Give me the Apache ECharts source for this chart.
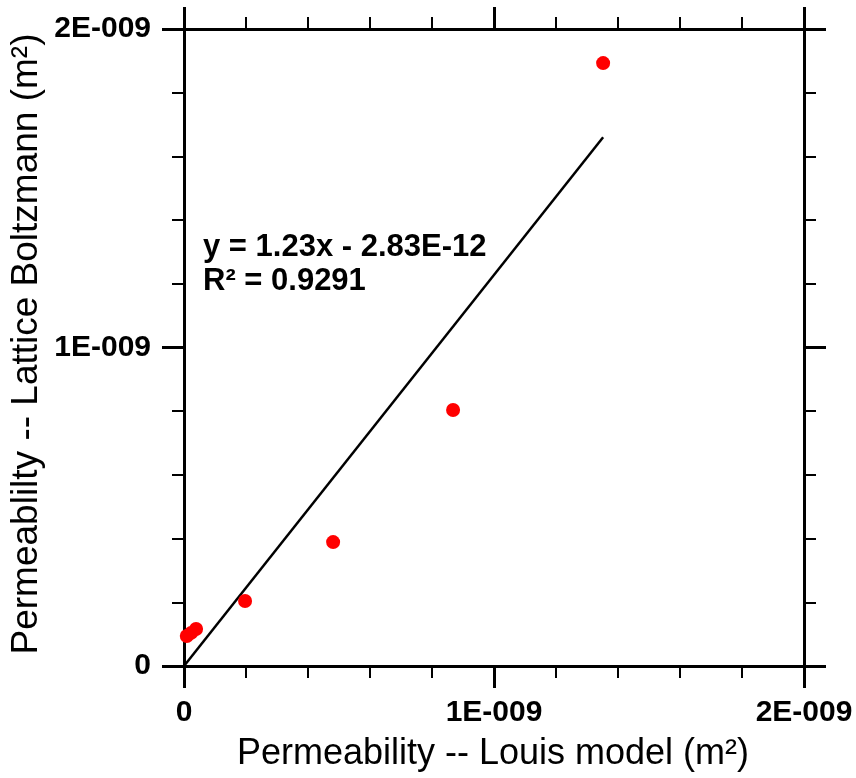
<!DOCTYPE html>
<html>
<head>
<meta charset="utf-8">
<script src="https://cdn.jsdelivr.net/npm/echarts@6/dist/echarts.min.js"></script>
<style>
html,body{margin:0;padding:0;background:#fff;}
#chart{width:856px;height:778px;}
</style>
</head>
<body>
<div id="chart"></div>
<script>
// Values in units of 1E-009 m^2
const louisModel = [1.352, 0.868, 0.481, 0.197, 0.009, 0.023, 0.039];
const latticeBoltzmann = [1.893, 0.804, 0.389, 0.204, 0.094, 0.104, 0.116];
const trendX = [0, 1.352];
const trendY = [0, 1.66];
const tickLabels = ['0', '1E-009', '2E-009'];
const xTitle = 'Permeability -- Louis model (m\u00B2)';
const yTitle = 'Permeablilty -- Lattice Boltzmann (m\u00B2)';
const eqLine1 = 'y = 1.23x - 2.83E-12';
const eqLine2 = 'R\u00B2 = 0.9291';

const FONT = '"Liberation Sans", Arial, Helvetica, sans-serif';
const chart = echarts.init(document.getElementById('chart'), null, {renderer: 'canvas'});

function fmt(v) {
  const i = Math.round(v);
  return tickLabels[i] !== undefined ? tickLabels[i] : '';
}

function axisCommon(showLabel, pos) {
  return {
    type: 'value', min: 0, max: 2, interval: 1, position: pos,
    axisLine: {show: true, onZero: false, lineStyle: {color: '#000', width: 3}},
    axisTick: {show: true, length: 22, lineStyle: {color: '#000', width: 3}},
    minorTick: {show: true, splitNumber: 5, length: 12, lineStyle: {color: '#000', width: 2}},
    splitLine: {show: false},
    minorSplitLine: {show: false},
    axisLabel: {
      show: showLabel, formatter: fmt, color: '#000',
      fontFamily: FONT, fontWeight: 'bold', fontSize: 30,
      margin: 32
    }
  };
}

const xBottom = axisCommon(true, 'bottom');
const xTop = axisCommon(false, 'top');
const yLeft = axisCommon(true, 'left');
yLeft.axisLabel.margin = 33;
const yRight = axisCommon(false, 'right');

const scatterData = louisModel.map((x, i) => [x, latticeBoltzmann[i]]);
const trendData = trendX.map((x, i) => [x, trendY[i]]);

chart.setOption({
  animation: false,
  backgroundColor: '#fff',
  grid: {left: 184, right: 52, top: 29, bottom: 112, containLabel: false},
  xAxis: [xBottom, xTop],
  yAxis: [yLeft, yRight],
  series: [
    {
      type: 'line', data: trendData, xAxisIndex: 0, yAxisIndex: 0,
      symbol: 'none', lineStyle: {color: '#000', width: 2.5}, z: 2
    },
    {
      type: 'scatter', data: scatterData, xAxisIndex: 0, yAxisIndex: 0,
      symbol: 'circle', symbolSize: 14, clip: false,
      itemStyle: {color: '#ff0000', opacity: 1}, z: 3
    }
  ],
  graphic: [
    {
      type: 'text', x: 493, y: 754,
      style: {text: xTitle, fill: '#000', font: '36px ' + FONT, textAlign: 'center', textVerticalAlign: 'middle'}
    },
    {
      type: 'text', x: 27, y: 344, rotation: Math.PI / 2,
      style: {text: yTitle, fill: '#000', font: '37px ' + FONT, textAlign: 'center', textVerticalAlign: 'middle'}
    },
    {
      type: 'text', x: 203, y: 247,
      style: {text: eqLine1, fill: '#000', font: 'bold 31px ' + FONT, textAlign: 'left', textVerticalAlign: 'middle'}
    },
    {
      type: 'text', x: 203, y: 281,
      style: {text: eqLine2, fill: '#000', font: 'bold 31px ' + FONT, textAlign: 'left', textVerticalAlign: 'middle'}
    }
  ]
});
</script>
</body>
</html>
